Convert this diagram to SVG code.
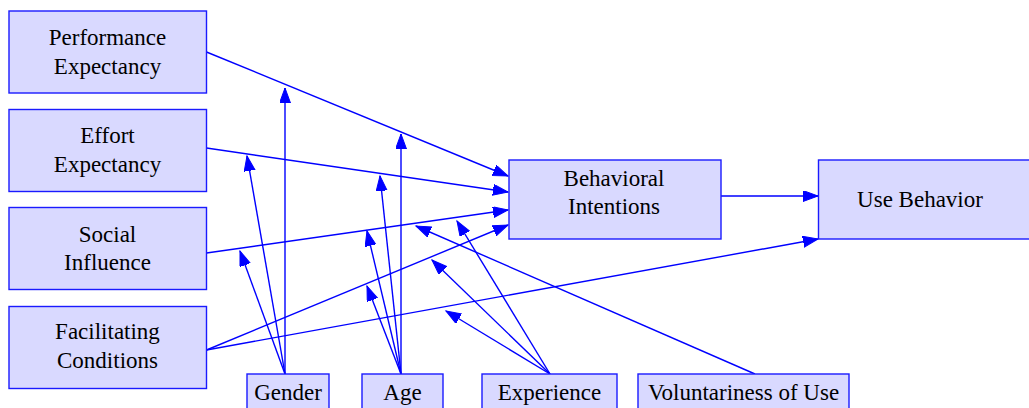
<svg xmlns="http://www.w3.org/2000/svg" width="1029" height="408" viewBox="0 0 1029 408">
<style>
.node rect{fill:#d9d9ff;stroke:#1a1aff;stroke-width:1.4}
.node text{font-family:Times,'Liberation Serif','Times New Roman',serif;font-size:23px;fill:#000;text-anchor:middle}
.edges path{fill:none;stroke:#0000ff;stroke-width:1.4;marker-end:url(#ah)}
</style>
<defs>
<marker id="ah" markerUnits="userSpaceOnUse" markerWidth="17" markerHeight="12" refX="15" refY="5.5" orient="auto">
<path d="M0,0 L15,5.5 L0,11 Z" fill="#0000ff" stroke="#0000ff" stroke-width="1"/>
</marker>
</defs>
<rect width="1029" height="408" fill="#fff"/>
<g class="edges">
<path d="M206.5,52 L508,176"/>
<path d="M206.5,148 L508,192"/>
<path d="M206.5,253 L508,210"/>
<path d="M206.5,350 L508,225"/>
<path d="M206.5,350 L818,239"/>
<path d="M721,196 L818,196"/>
<path d="M285,374 L285,88"/>
<path d="M285,374 L247,156"/>
<path d="M285,374 L240,251"/>
<path d="M401,374 L401,134"/>
<path d="M401,374 L380,176"/>
<path d="M401,374 L367,231"/>
<path d="M401,374 L367,286"/>
<path d="M550,374 L457,221"/>
<path d="M550,374 L432,260"/>
<path d="M550,374 L446,311"/>
<path d="M755,374 L416,226"/>
</g>
<g id="pe" class="node"><rect x="9" y="11" width="197.5" height="82"/><text x="107.5" y="45">Performance</text><text x="107.5" y="74">Expectancy</text></g>
<g id="ee" class="node"><rect x="9" y="109.5" width="197.5" height="82"/><text x="107.5" y="143">Effort</text><text x="107.5" y="172">Expectancy</text></g>
<g id="si" class="node"><rect x="9" y="207.5" width="197.5" height="82"/><text x="107.5" y="242">Social</text><text x="107.5" y="270">Influence</text></g>
<g id="fc" class="node"><rect x="9" y="306.5" width="197.5" height="82"/><text x="107.5" y="339">Facilitating</text><text x="107.5" y="368">Conditions</text></g>
<g id="bi" class="node"><rect x="509" y="160" width="212" height="79"/><text x="614" y="186">Behavioral</text><text x="614" y="214">Intentions</text></g>
<g id="ub" class="node"><rect x="818.5" y="160" width="212" height="79"/><text x="920" y="207">Use Behavior</text></g>
<g id="gender" class="node"><rect x="247" y="374" width="82" height="42"/><text x="288" y="400">Gender</text></g>
<g id="age" class="node"><rect x="362" y="374" width="81" height="42"/><text x="402.5" y="400">Age</text></g>
<g id="exp" class="node"><rect x="482" y="374" width="135" height="42"/><text x="549.5" y="400">Experience</text></g>
<g id="vol" class="node"><rect x="638" y="374" width="211" height="42"/><text x="743.5" y="400">Voluntariness of Use</text></g>
</svg>
